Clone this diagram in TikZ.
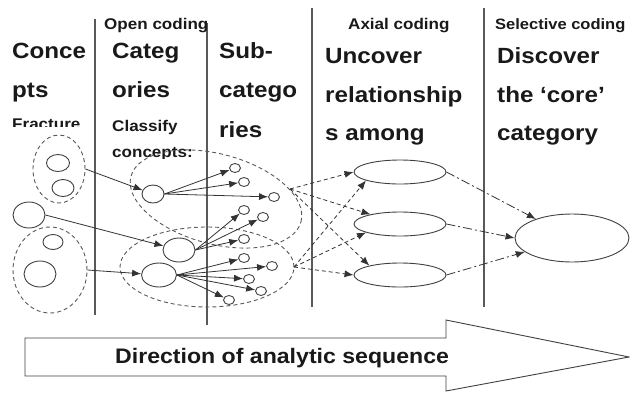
\documentclass[tikz,border=0pt]{standalone}
\usepackage{fontspec}
\setmainfont{Liberation Sans}[FakeStretch=1.1]
\usetikzlibrary{shapes.geometric,arrows.meta}
\begin{document}
\begin{tikzpicture}[x=1pt,y=-1pt,
  big/.style={anchor=base west,inner sep=0pt,font=\fontsize{22}{26}\selectfont\bfseries,text=black!90},
  small/.style={anchor=base west,inner sep=0pt,font=\fontsize{15.5}{18}\selectfont\bfseries,text=black!90},
  bottomtext/.style={anchor=base west,inner sep=0pt,font=\fontsize{21}{25}\selectfont\bfseries,text=black!90},
  divider/.style={draw=black!65,line width=1.4pt},
  sz/.style 2 args={minimum width=#1,minimum height=#2},
  circ/.style={ellipse,draw=black!75,line width=0.9pt,inner sep=0pt},
  sub/.style={circ,sz={11pt}{9pt}},
  grp/.style={ellipse,draw=black!65,line width=0.9pt,dash pattern=on 4pt off 3pt,inner sep=0pt},
  arr/.style={draw=black!80,line width=0.8pt,-{Latex[length=9pt,width=7pt]}},
  darr/.style={arr,dash pattern=on 4pt off 3pt},
  dcarr/.style={arr,dash pattern=on 9pt off 3pt on 2pt off 3pt},
]
\useasboundingbox (0,0) rectangle (630,392);

% dividers
\draw[divider] (95,19) -- (95,315);
\draw[divider] (207,23) -- (207,325);
\draw[divider] (312,8) -- (312,307);
\draw[divider] (484,8) -- (484,307);

% headers
\node[small] (hopen) at (104,29) {Open coding};
\node[small] (haxial) at (348,29) {Axial coding};
\node[small,font=\fontsize{15}{18}\selectfont\bfseries] (hsel) at (495,29) {Selective coding};

% column texts
\node[big] (t1a) at (12,58) {Conce};
\node[big] (t1b) at (12,97) {pts};
\begin{scope}
  \clip (0,100) rectangle (94,126);
  \node[small] (t1c) at (12,129) {Fracture};
\end{scope}
\node[big] (t2a) at (112,58) {Categ};
\node[big] (t2b) at (112,97) {ories};
\node[small] (t2c) at (112,131) {Classify};
\begin{scope}
  \clip (100,140) rectangle (206,158);
  \node[small] (t2d) at (112,157) {concepts:};
\end{scope}
\node[big] (t3a) at (219,58) {Sub-};
\node[big] (t3b) at (219,97) {catego};
\node[big] (t3c) at (219,137) {ries};
\node[big] (t4a) at (325,63) {Uncover};
\node[big] (t4b) at (325,102) {relationship};
\node[big] (t4c) at (325,140) {s among};
\node[big] (t5a) at (497,63) {Discover};
\node[big] (t5b) at (497,102) {the ‘core’};
\node[big] (t5c) at (497,140) {category};

% concepts
\node[grp,sz={52pt}{68pt}] (gA) at (59,169) {};
\node[circ,sz={23pt}{17pt}] (ca1) at (58,163) {};
\node[circ,sz={22pt}{17pt}] (ca2) at (63,188) {};
\node[circ,sz={32pt}{26pt}] (bc) at (29,215) {};
\node[grp,sz={74pt}{86pt}] (gB) at (50,270) {};
\node[circ,sz={20pt}{15pt}] (cb1) at (53,242) {};
\node[circ,sz={32pt}{26pt}] (cb2) at (40,274) {};

% categories
\node[circ,sz={22pt}{18pt}] (c1) at (153,194) {};
\node[circ,sz={32pt}{24pt}] (c2) at (179,250) {};
\node[circ,sz={35pt}{24pt}] (c3) at (159,275) {};

% sub-category groups
\node[grp,sz={176pt}{90pt},rotate=-15] (gD) at (216,199) {};
\node[grp,sz={174pt}{80pt}] (gE) at (207,267) {};

% sub-categories
\node[sub] (s1) at (235,168) {};
\node[sub] (s2) at (244,182) {};
\node[sub] (s3) at (274,197) {};
\node[sub] (s4) at (244,210) {};
\node[sub] (s5) at (263,217) {};
\node[sub] (s6) at (244,239) {};
\node[sub] (s7) at (244,258) {};
\node[sub] (s8) at (272,266) {};
\node[sub] (s9) at (249,279) {};
\node[sub] (s10) at (261,291) {};
\node[sub] (s11) at (229,300) {};

% axial
\node[circ,sz={92pt}{24pt}] (a1) at (400,172) {};
\node[circ,sz={92pt}{24pt}] (a2) at (400,224) {};
\node[circ,sz={92pt}{24pt}] (a3) at (400,275) {};
\node[circ,sz={114pt}{48pt}] (core) at (572,238) {};

\coordinate (p1) at (290,189);
\coordinate (p2) at (294,267);

% open coding arrows
\draw[arr] (gA.east) -- (c1);
\draw[arr] (bc.east) -- (c2);
\draw[arr] (gB.east) -- (c3);
\foreach \s in {s1,s2,s3} \draw[arr] (c1.east) -- (\s);
\foreach \s in {s4,s5,s6} \draw[arr] (c2.east) -- (\s);
\foreach \s in {s7,s8,s9,s10,s11} \draw[arr] (c3.east) -- (\s);

% axial arrows
\draw[darr] (p1) -- (a1.west);
\draw[darr] (p1) -- (a2.162);
\draw[darr] (p1) -- (a3.163);
\draw[darr] (p2) -- (a1.194);
\draw[darr] (p2) -- (a2.194);
\draw[darr] (p2) -- (a3.west);

% selective arrows
\draw[dcarr] (a1.east) -- (core);
\draw[dcarr] (a2.east) -- (core.west);
\draw[dcarr] (a3.east) -- (core);

% direction arrow
\draw[draw=black!75,line width=0.9pt,fill=white] (25,338) -- (446,338) -- (446,320) -- (629,357) -- (446,391) -- (446,376) -- (25,376) -- cycle;
\node[bottomtext] (dir) at (115,363) {Direction of analytic sequence};
\end{tikzpicture}
\end{document}
